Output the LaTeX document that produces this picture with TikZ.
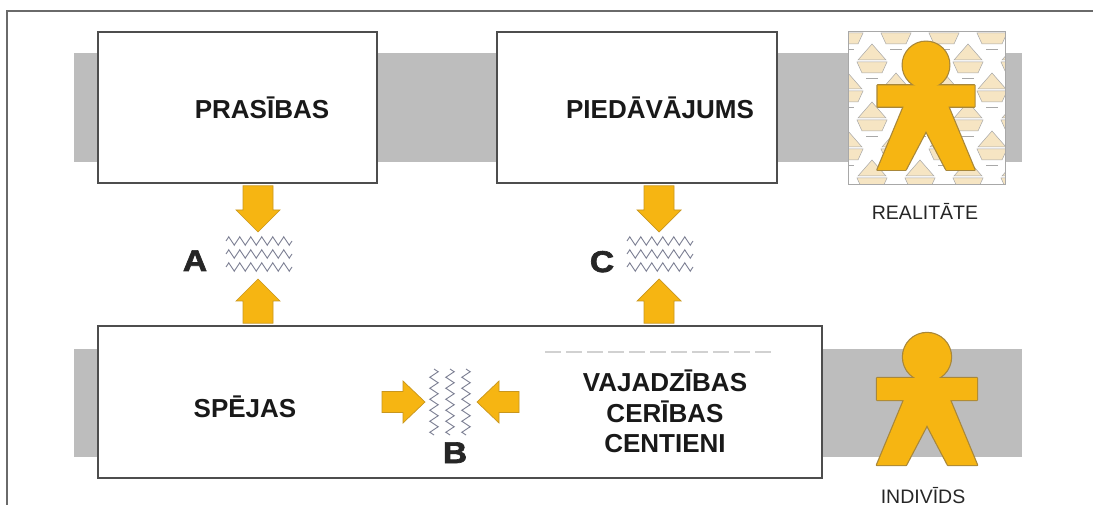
\documentclass[tikz,border=0pt]{standalone}
\usepackage{fontspec}
\setmainfont{Liberation Sans}
\newfontfamily\heavyfont{Liberation Sans Bold}[FakeBold=2.2, FakeStretch=1.12]
\usetikzlibrary{calc,decorations.pathmorphing}

\definecolor{band}{HTML}{BDBDBD}
\definecolor{framegray}{HTML}{6A6A6A}
\definecolor{boxline}{HTML}{4D4D4D}
\definecolor{amber}{HTML}{F6B512}
\definecolor{amberline}{HTML}{C8961E}
\definecolor{personline}{HTML}{A8873A}
\definecolor{wave}{HTML}{7B7E92}
\definecolor{beige}{HTML}{F6E5C3}
\definecolor{tileline}{HTML}{A8A8A8}

% block arrow: from, to, shaft half width, head half width, head length
\newcommand\blockarrow[5]{%
  \coordinate (hb) at ($(#2)!#5!(#1)$);
  \filldraw[amberarrow]
    ($(#1)!#3!90:(#2)$) -- ($(hb)!#3!90:(#2)$) -- ($(hb)!#4!90:(#2)$) --
    (#2) --
    ($(hb)!#4!-90:(#2)$) -- ($(hb)!#3!-90:(#2)$) -- ($(#1)!#3!-90:(#2)$) -- cycle;
}

\tikzset{
  box/.style={draw=boxline, line width=2.6pt, fill=white, inner sep=0pt},
  boxtext/.style={font=\fontsize{26}{26}\selectfont\bfseries, anchor=base, inner sep=0pt, text=black!90},
  tag/.style={font=\fontsize{30}{30}\selectfont\heavyfont, anchor=base, inner sep=0pt, text=black!85},
  caption/.style={font=\fontsize{19.5}{19.5}\selectfont, anchor=base, inner sep=0pt, text=black!85},
  amberarrow/.style={fill=amber, draw=amberline, line width=0.7pt, line join=miter},
  wavemark/.style={draw=wave, line width=0.9pt, decorate,
    decoration={zigzag, segment length=11pt, amplitude=4.2pt}},
  tile/.style={fill=beige, draw=tileline, line width=0.5pt},
  figure outline/.style={draw=personline, line width=2.4pt, line join=round},
  figure fill/.style={fill=amber},
  person/.pic={
    \path[figure outline] (-50,21) -- (50,21) -- (50,43) -- (23,43) -- (50,108) -- (21,108)
      -- (0,68) -- (-21,108) -- (-50,108) -- (-23,43) -- (-50,43) -- cycle;
    \path[figure outline] (0,0) circle (24pt);
    \path[figure fill] (-50,21) -- (50,21) -- (50,43) -- (23,43) -- (50,108) -- (21,108)
      -- (0,68) -- (-21,108) -- (-50,108) -- (-23,43) -- (-50,43) -- cycle;
    \path[figure fill] (0,0) circle (24pt);
  }
}

\begin{document}
\begin{tikzpicture}[x=1pt, y=-1pt]
\useasboundingbox (0,0) rectangle (1093,505);

% outer frame
\draw[framegray, line width=1.6pt] (7,505) -- (7,11) -- (1093,11);

% grey bands behind the boxes
\fill[band] (74,53) rectangle (1022,162);
\fill[band] (74,349) rectangle (1022,457);

% boxes
\node[box, minimum width=279pt, minimum height=151pt] (prasBox) at (237.5,107.5) {};
\node[box, minimum width=280pt, minimum height=151pt] (piedBox) at (637,107.5) {};
\node[box, minimum width=724pt, minimum height=152pt] (indBox) at (460,402) {};

% box texts
\node[boxtext] (prasText) at (262,119) {PRASĪBAS};
\node[boxtext] (piedText) at (660,119) {PIEDĀVĀJUMS};
\node[boxtext] (spejText) at (245,417) {SPĒJAS};
\node[boxtext] (vajText) at (665,391) {VAJADZĪBAS};
\node[boxtext] (cerText) at (665,422) {CERĪBAS};
\node[boxtext] (cenText) at (665,452) {CENTIENI};

% faded line above the needs list
\draw[black!18, line width=1.4pt, dash pattern=on 16pt off 5pt] (545,352) -- (775,352);

% tension marks
\coordinate (zA) at (259,254);
\coordinate (zC) at (660,254);
\coordinate (zB) at (450,402);
\foreach \dy in {-13,0,13} {
  \draw[wavemark] ($(zA)+(-33,\dy)$) -- ($(zA)+(33,\dy)$);
  \draw[wavemark] ($(zC)+(-33,\dy)$) -- ($(zC)+(33,\dy)$);
}
\foreach \dx in {-16,0,16} {
  \draw[wavemark] ($(zB)+(\dx,-33)$) -- ($(zB)+(\dx,33)$);
}

% arrow anchors
\coordinate (ax) at (258,0);
\coordinate (cx) at (659,0);
\coordinate (aDownTip) at (258,232);
\coordinate (aUpTip) at (258,279);
\coordinate (cDownTip) at (659,232);
\coordinate (cUpTip) at (659,279);
\coordinate (bLeftStart) at (382,402);
\coordinate (bLeftTip) at (425,402);
\coordinate (bRightStart) at (519,402);
\coordinate (bRightTip) at (477,402);
\coordinate (aDownStart) at ($(prasBox.south -| ax)+(0,1.5)$);
\coordinate (aUpStart) at ($(indBox.north -| ax)+(0,-1.5)$);
\coordinate (cDownStart) at ($(piedBox.south -| cx)+(0,1.5)$);
\coordinate (cUpStart) at ($(indBox.north -| cx)+(0,-1.5)$);

\blockarrow{aDownStart}{aDownTip}{15pt}{22pt}{22pt}
\blockarrow{aUpStart}{aUpTip}{15pt}{22pt}{22pt}
\blockarrow{cDownStart}{cDownTip}{15pt}{22pt}{22pt}
\blockarrow{cUpStart}{cUpTip}{15pt}{22pt}{22pt}
\blockarrow{bLeftStart}{bLeftTip}{10.5pt}{21pt}{22pt}
\blockarrow{bRightStart}{bRightTip}{10.5pt}{21pt}{22pt}

% letters
\node[tag] (tagA) at (195,271) {A};
\node[tag] (tagC) at (602,272) {C};
\node[tag] (tagB) at (455,463) {B};

% patterned square: the crowd
\fill[white] (848,32) rectangle (1005,185);
\begin{scope}
  \clip (848,32) rectangle (1005,185);
  \foreach \r in {0,...,5} {
    \pgfmathsetmacro\yy{30+29*\r}
    \pgfmathsetmacro\off{24*mod(\r,2)}
    \foreach \c in {-1,...,4} {
      \pgfmathsetmacro\xx{848+\off+48*\c}
      \filldraw[tile] (\xx-15,\yy+3) -- (\xx+15,\yy+3) -- (\xx+10,\yy+14) -- (\xx-10,\yy+14) -- cycle;
      \draw[tileline, line width=0.5pt] (\xx-6,\yy+19) -- (\xx+6,\yy+19);
      \filldraw[tile] (\xx+10,\yy+30) -- (\xx+24,\yy+14) -- (\xx+38,\yy+30) -- cycle;
    }
  }
\end{scope}
\draw[tileline, line width=1pt] (848,32) rectangle (1005,185);

% people
\pic (crowdPerson) at (926,65) [scale=0.97] {person};
\pic (onePerson) at (927,357) {person};

% captions
\node[caption] (realText) at (925,220) {REALITĀTE};
\node[caption] (indText) at (923,503) {INDIVĪDS};
\end{tikzpicture}
\end{document}
